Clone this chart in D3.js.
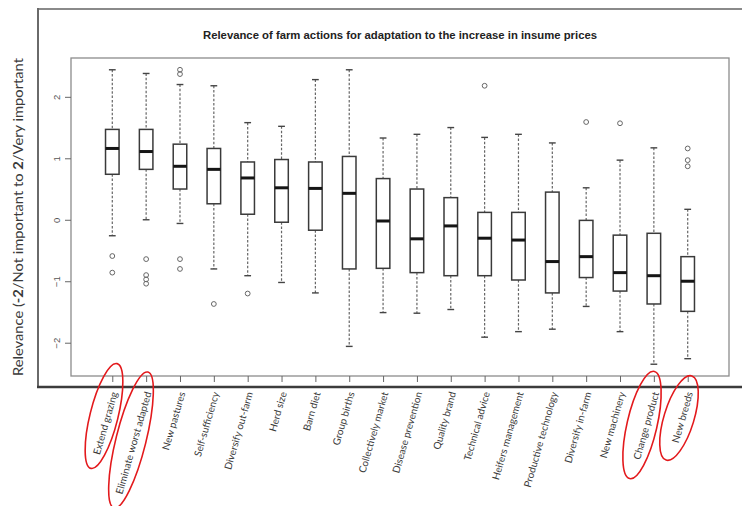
<!DOCTYPE html>
<html>
<head>
<meta charset="utf-8">
<script src="https://cdn.jsdelivr.net/npm/d3@7"></script>
<style>
  html, body { margin: 0; padding: 0; background: #fff; }
  svg { display: block; }
</style>
</head>
<body>
<svg id="chart" width="742" height="506"></svg>
<script>
// Farm actions, ordered as plotted
const categories = [
  "Extend grazing", "Eliminate worst adapted", "New pastures", "Self-sufficiency",
  "Diversify out-farm", "Herd size", "Barn diet", "Group births",
  "Collectively market", "Disease prevention", "Quality brand", "Technical advice",
  "Heifers management", "Productive technology", "Diversify in-farm", "New machinery",
  "Change product", "New breeds"
];

// Five-number summaries per action (relevance scale -2..2)
const whiskerHigh = [2.44, 2.38, 2.20, 2.18, 1.58, 1.52, 2.28, 2.44, 1.33, 1.39, 1.50, 1.34, 1.39, 1.25, 0.52, 0.97, 1.17, 0.17];
const q3          = [1.47, 1.47, 1.23, 1.16, 0.94, 0.98, 0.94, 1.03, 0.67, 0.50, 0.36, 0.12, 0.12, 0.45, -0.01, -0.25, -0.22, -0.60];
const medians     = [1.16, 1.11, 0.87, 0.82, 0.68, 0.52, 0.51, 0.43, -0.02, -0.31, -0.10, -0.30, -0.33, -0.68, -0.60, -0.86, -0.91, -1.00];
const q1          = [0.74, 0.82, 0.50, 0.26, 0.09, -0.04, -0.17, -0.80, -0.79, -0.86, -0.91, -0.91, -0.98, -1.19, -0.94, -1.16, -1.37, -1.49];
const whiskerLow  = [-0.26, 0.00, -0.06, -0.80, -0.91, -1.02, -1.19, -2.06, -1.51, -1.52, -1.46, -1.91, -1.82, -1.78, -1.41, -1.82, -2.35, -2.26];
const outliers    = [
  [-0.59, -0.86], [-0.64, -0.90, -0.97, -1.04], [2.44, 2.37, -0.64, -0.80], [-1.37],
  [-1.20], [], [], [], [], [], [], [2.18], [], [], [1.59], [1.57], [], [1.16, 0.97, 0.87]
];
const yTicks = [-2, -1, 0, 1, 2];

// Categories with circled labels
const circled = [
  { cat: "Extend grazing",          cx: 104, cy: 416, rx: 54, ry: 14, angle: -76 },
  { cat: "Eliminate worst adapted", cx: 131, cy: 440, rx: 70, ry: 15, angle: -76 },
  { cat: "Change product",          cx: 642, cy: 425, rx: 55, ry: 15, angle: -77 },
  { cat: "New breeds",              cx: 679, cy: 418, rx: 44, ry: 15, angle: -73 }
];

const svg = d3.select("#chart");
const plot = { left: 71, right: 729, top: 58, bottom: 376 };

const n = categories.length;
const xPad = 0.04 * n;
const x = d3.scaleLinear()
  .domain([0.5 - xPad, n + 0.5 + xPad])
  .range([plot.left, plot.right]);

const allVals = whiskerLow.concat(whiskerHigh, outliers.flat());
const yMin = d3.min(allVals), yMax = d3.max(allVals);
const yPad = 0.04 * (yMax - yMin);
const y = d3.scaleLinear()
  .domain([yMin - yPad, yMax + yPad])
  .range([plot.bottom, plot.top]);

// Outer frame
svg.append("line").attr("x1", 38).attr("x2", 742).attr("y1", 9).attr("y2", 9)
  .attr("stroke", "#8a8a8a").attr("stroke-width", 2);
svg.append("line").attr("x1", 38).attr("x2", 38).attr("y1", 8).attr("y2", 388)
  .attr("stroke", "#6a6a6a").attr("stroke-width", 2);
svg.append("line").attr("x1", 37).attr("x2", 742).attr("y1", 387).attr("y2", 387)
  .attr("stroke", "#3c3c3c").attr("stroke-width", 2.4);

// Title
svg.append("text")
  .attr("x", (plot.left + plot.right) / 2).attr("y", 39)
  .attr("text-anchor", "middle")
  .attr("font-family", "'Liberation Sans Narrow', 'Liberation Sans', Arial, sans-serif")
  .attr("font-size", 11).attr("font-weight", "bold").attr("fill", "#222")
  .attr("textLength", 394).attr("lengthAdjust", "spacingAndGlyphs")
  .text("Relevance of farm actions for adaptation to the increase in insume prices");

// Plot box
svg.append("rect")
  .attr("x", plot.left).attr("y", plot.top)
  .attr("width", plot.right - plot.left).attr("height", plot.bottom - plot.top)
  .attr("fill", "none").attr("stroke", "#8c8c8c").attr("stroke-width", 1.3);

// Y axis
const yAxis = svg.append("g")
  .attr("transform", `translate(${plot.left},0)`)
  .call(d3.axisLeft(y).tickValues(yTicks).tickFormat(d3.format("d"))
    .tickSize(6).tickSizeOuter(0).tickPadding(0));
yAxis.select(".domain").remove();
yAxis.selectAll(".tick line").attr("stroke", "#666").attr("stroke-width", 1);
yAxis.selectAll(".tick text")
  .attr("x", 0).attr("y", -11).attr("dy", 0)
  .attr("transform", "rotate(-90)")
  .attr("text-anchor", "middle")
  .attr("font-family", "'Liberation Sans', Arial, sans-serif")
  .attr("font-size", 9.5).attr("fill", "#555");

// X axis ticks
const xAxis = svg.append("g")
  .attr("transform", `translate(0,${plot.bottom})`)
  .call(d3.axisBottom(x).tickValues(d3.range(1, n + 1)).tickSize(6).tickSizeOuter(0).tickFormat(""));
xAxis.select(".domain").remove();
xAxis.selectAll(".tick line").attr("stroke", "#666").attr("stroke-width", 1);

// X labels, rotated
svg.append("g").selectAll("text")
  .data(categories)
  .join("text")
  .attr("transform", (d, i) => `translate(${x(i + 1) + 2},392) rotate(-74)`)
  .attr("text-anchor", "end")
  .attr("dy", "0.35em")
  .attr("font-family", "Lato, 'Open Sans', sans-serif")
  .attr("font-size", 10).attr("fill", "#3a3a3a")
  .text(d => d);

// Y title
const yTitle = svg.append("text")
  .attr("transform", "translate(23,217) rotate(-90)")
  .attr("text-anchor", "middle")
  .attr("font-family", "Lato, 'Open Sans', sans-serif")
  .attr("font-size", 14).attr("fill", "#3a3a3a")
  .attr("textLength", 318).attr("lengthAdjust", "spacingAndGlyphs");
yTitle.append("tspan").text("Relevance (");
yTitle.append("tspan").attr("font-weight", "bold").text("-2");
yTitle.append("tspan").text("/Not important to ");
yTitle.append("tspan").attr("font-weight", "bold").text("2");
yTitle.append("tspan").text("/Very important");

// Boxplots
const boxW = x(1.4) - x(1);   // 0.8 units wide
const capW = x(1.2) - x(1);   // staple half of box width
const boxes = svg.append("g").selectAll("g")
  .data(categories.map((c, i) => ({
    c, i, lo: whiskerLow[i], q1: q1[i], med: medians[i], q3: q3[i], hi: whiskerHigh[i], out: outliers[i]
  })))
  .join("g")
  .attr("transform", d => `translate(${x(d.i + 1)},0)`);

// whiskers (dashed)
boxes.append("line")
  .attr("x1", 0).attr("x2", 0)
  .attr("y1", d => y(d.hi)).attr("y2", d => y(d.q3))
  .attr("stroke", "#666").attr("stroke-width", 1.2).attr("stroke-dasharray", "2.5,1.8");
boxes.append("line")
  .attr("x1", 0).attr("x2", 0)
  .attr("y1", d => y(d.q1)).attr("y2", d => y(d.lo))
  .attr("stroke", "#666").attr("stroke-width", 1.2).attr("stroke-dasharray", "2.5,1.8");
// staples
boxes.append("line")
  .attr("x1", -capW / 2).attr("x2", capW / 2)
  .attr("y1", d => y(d.hi)).attr("y2", d => y(d.hi))
  .attr("stroke", "#444").attr("stroke-width", 1.4);
boxes.append("line")
  .attr("x1", -capW / 2).attr("x2", capW / 2)
  .attr("y1", d => y(d.lo)).attr("y2", d => y(d.lo))
  .attr("stroke", "#444").attr("stroke-width", 1.4);
// box
boxes.append("rect")
  .attr("x", -boxW / 2).attr("width", boxW)
  .attr("y", d => y(d.q3)).attr("height", d => y(d.q1) - y(d.q3))
  .attr("fill", "#fff").attr("stroke", "#3a3a3a").attr("stroke-width", 1.5);
// median
boxes.append("line")
  .attr("x1", -boxW / 2).attr("x2", boxW / 2)
  .attr("y1", d => y(d.med)).attr("y2", d => y(d.med))
  .attr("stroke", "#151515").attr("stroke-width", 3);
// outliers
boxes.selectAll("circle")
  .data(d => d.out)
  .join("circle")
  .attr("cx", 0).attr("cy", v => y(v)).attr("r", 2.4)
  .attr("fill", "none").attr("stroke", "#666").attr("stroke-width", 1);

// Red circles around highlighted labels
svg.append("g").selectAll("ellipse")
  .data(circled)
  .join("ellipse")
  .attr("transform", d => `translate(${d.cx},${d.cy}) rotate(${d.angle})`)
  .attr("rx", d => d.rx).attr("ry", d => d.ry)
  .attr("fill", "none").attr("stroke", "#e3191c").attr("stroke-width", 1.6);
</script>
</body>
</html>
